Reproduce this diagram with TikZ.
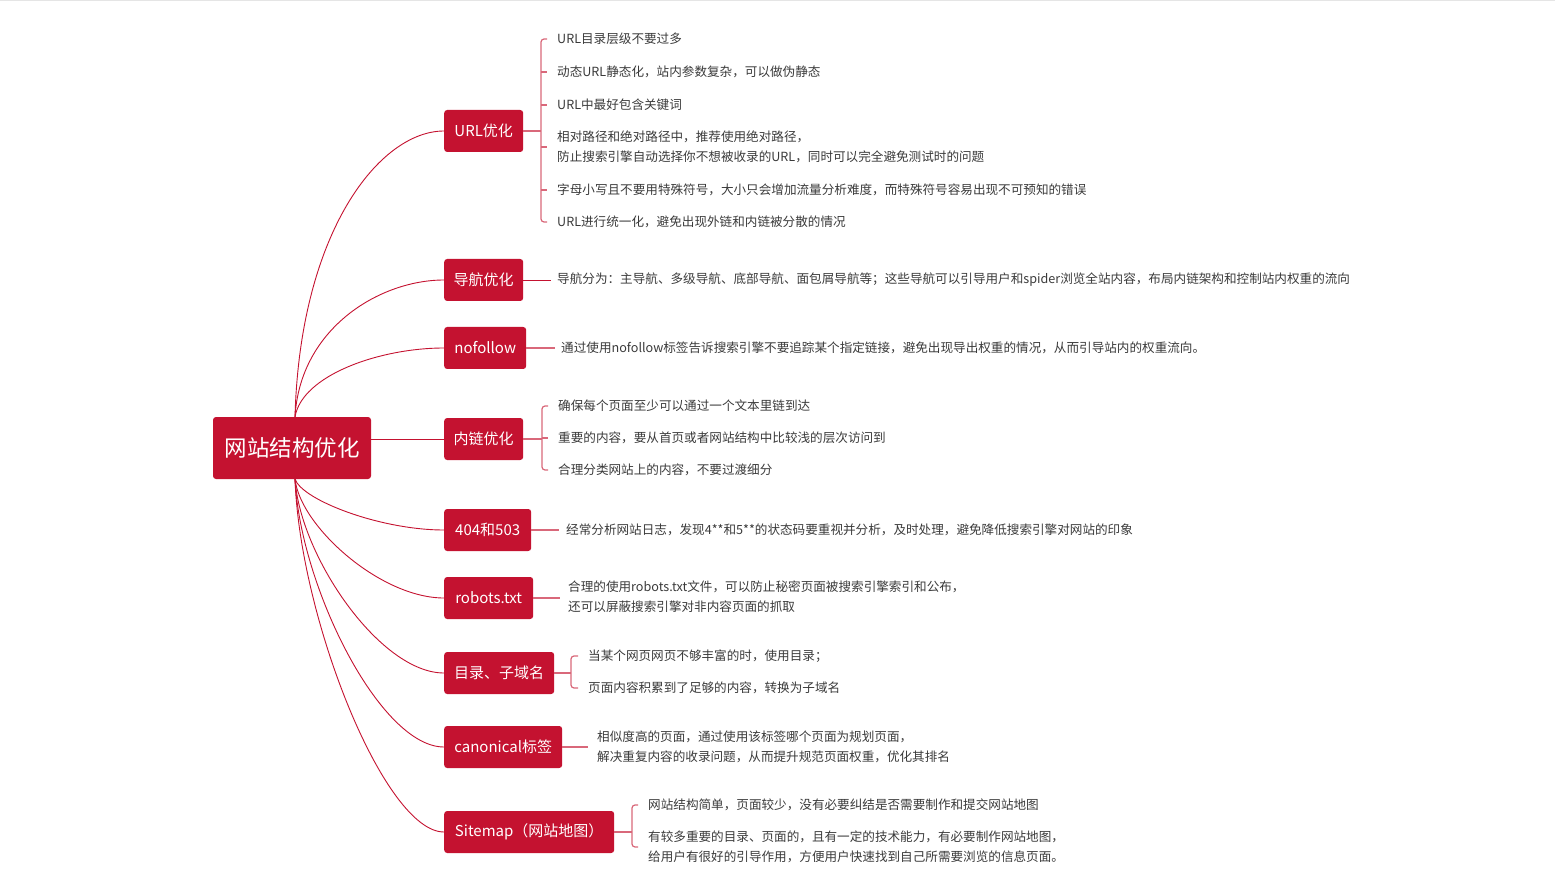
\documentclass[tikz,border=0pt]{standalone}
\usepackage{fontspec}
\newfontfamily\cjk{Noto Sans CJK SC}
\usetikzlibrary{calc}
\definecolor{crim}{HTML}{C41230}
\definecolor{pinkline}{HTML}{D9687A}
\definecolor{txt}{HTML}{3A3A3A}
\begin{document}
\begin{tikzpicture}[x=1pt,y=-1pt,
  rootbox/.style={fill=crim,rounded corners=3pt,text=white,font=\cjk\fontsize{22.5}{27}\selectfont,minimum width=158pt,minimum height=62pt,inner sep=0pt},
  branch/.style={fill=crim,rounded corners=3pt,text=white,font=\cjk\fontsize{15}{18}\selectfont,minimum height=42pt,inner xsep=6pt,anchor=west},
  leaf/.style={text=txt,font=\cjk\fontsize{12.6}{20}\selectfont,anchor=west,inner sep=0pt,align=left},
  link/.style={draw=crim,line width=0.9pt},
  brk/.style={draw=pinkline,line width=1.2pt,rounded corners=3pt},
  stem/.style={draw=pinkline,line width=1.2pt}]
\useasboundingbox (0,0) rectangle (1555,882);
\draw[black!10,line width=1pt] (0,1) -- (1555,1);

% root
\node[rootbox] (root) at (292,448) {网站结构优化};

% branches
\node[branch,minimum width=79pt] (url) at (444,131) {URL优化};
\node[branch,minimum width=79pt] (nav) at (444,280) {导航优化};
\node[branch,minimum width=82pt] (nof) at (444,348) {nofollow};
\node[branch,minimum width=79pt] (inl) at (444,439) {内链优化};
\node[branch,minimum width=87pt] (e404) at (444,530) {404和503};
\node[branch,minimum width=89pt] (rob) at (444,598) {robots.txt};
\node[branch,minimum width=110pt] (dir) at (444,673) {目录、子域名};
\node[branch,minimum width=118pt] (can) at (444,747) {canonical标签};
\node[branch,minimum width=170pt] (smap) at (444,832) {Sitemap（网站地图）};

% root connectors
\coordinate (rt) at (295,417);
\coordinate (rb) at (295,479);
\draw[link] (rt) .. controls (300,231) and (380,131) .. (url.west);
\draw[link] (rt) .. controls (300,328) and (380,280) .. (nav.west);
\draw[link] (rt) .. controls (302,375) and (380,348) .. (nof.west);
\draw[link] (root.east |- inl.west) -- (inl.west);
\draw[link] (rb) .. controls (302,500) and (380,530) .. (e404.west);
\draw[link] (rb) .. controls (300,526) and (380,598) .. (rob.west);
\draw[link] (rb) .. controls (300,556) and (380,673) .. (dir.west);
\draw[link] (rb) .. controls (300,586) and (380,747) .. (can.west);
\draw[link] (rb) .. controls (300,620) and (385,832) .. (smap.west);

% URL leaves
\node[leaf] (u1) at (557,39) {URL目录层级不要过多};
\node[leaf] (u2) at (557,72) {动态URL静态化，站内参数复杂，可以做伪静态};
\node[leaf] (u3) at (557,105) {URL中最好包含关键词};
\node[leaf] (u4) at (557,147) {相对路径和绝对路径中，推荐使用绝对路径，\\防止搜索引擎自动选择你不想被收录的URL，同时可以完全避免测试时的问题};
\node[leaf] (u5) at (557,190) {字母小写且不要用特殊符号，大小只会增加流量分析难度，而特殊符号容易出现不可预知的错误};
\node[leaf] (u6) at (557,222) {URL进行统一化，避免出现外链和内链被分散的情况};
\coordinate (ub) at (541,131);
\draw[stem] (url.east) -- (ub);
\draw[brk] ($(u1.west)+(-10,0)$) -- (u1.west -| ub) -- (u6.west -| ub) -- ($(u6.west)+(-10,0)$);
\foreach \n in {u2,u3,u4,u5} \draw[stem] (\n.west -| ub) -- ($(\n.west)+(-10,0)$);

% nav
\node[leaf] (n1) at (557,280) {导航分为：主导航、多级导航、底部导航、面包屑导航等；这些导航可以引导用户和spider浏览全站内容，布局内链架构和控制站内权重的流向};
\draw[link] (nav.east) -- ($(n1.west)+(-6,0)$);

% nofollow
\node[leaf] (f1) at (561,348) {通过使用nofollow标签告诉搜索引擎不要追踪某个指定链接，避免出现导出权重的情况，从而引导站内的权重流向。};
\draw[stem] (nof.east) -- ($(f1.west)+(-6,0)$);

% internal links
\node[leaf] (i1) at (558,406) {确保每个页面至少可以通过一个文本里链到达};
\node[leaf] (i2) at (558,438) {重要的内容，要从首页或者网站结构中比较浅的层次访问到};
\node[leaf] (i3) at (558,470) {合理分类网站上的内容，不要过渡细分};
\coordinate (ib) at (542,439);
\draw[stem] (inl.east) -- (ib);
\draw[brk] ($(i1.west)+(-10,0)$) -- (i1.west -| ib) -- (i3.west -| ib) -- ($(i3.west)+(-10,0)$);
\draw[stem] (i2.west -| ib) -- ($(i2.west)+(-10,0)$);

% 404
\node[leaf] (e1) at (566,530) {经常分析网站日志，发现4**和5**的状态码要重视并分析，及时处理，避免降低搜索引擎对网站的印象};
\draw[stem] (e404.east) -- ($(e1.west)+(-7,0)$);

% robots
\node[leaf] (r1) at (568,597) {合理的使用robots.txt文件，可以防止秘密页面被搜索引擎索引和公布，\\还可以屏蔽搜索引擎对非内容页面的抓取};
\draw[stem] (rob.east) -- ($(rob.east)+(27,0)$);

% dir
\node[leaf] (d1) at (588,656) {当某个网页网页不够丰富的时，使用目录；};
\node[leaf] (d2) at (588,688) {页面内容积累到了足够的内容，转换为子域名};
\coordinate (db) at (571,673);
\draw[stem] (dir.east) -- (db);
\draw[brk] ($(d1.west)+(-10,0)$) -- (d1.west -| db) -- (d2.west -| db) -- ($(d2.west)+(-10,0)$);

% canonical
\node[leaf] (c1) at (597,747) {相似度高的页面，通过使用该标签哪个页面为规划页面，\\解决重复内容的收录问题，从而提升规范页面权重，优化其排名};
\draw[stem] (can.east) -- ($(can.east)+(26,0)$);

% sitemap
\node[leaf] (s1) at (648,805) {网站结构简单，页面较少，没有必要纠结是否需要制作和提交网站地图};
\node[leaf] (s2) at (648,847) {有较多重要的目录、页面的，且有一定的技术能力，有必要制作网站地图，\\给用户有很好的引导作用，方便用户快速找到自己所需要浏览的信息页面。};
\coordinate (sb) at (632,832);
\draw[stem] (smap.east) -- (sb);
\draw[brk] ($(s1.west)+(-10,0)$) -- (s1.west -| sb) -- (s2.west -| sb) -- ($(s2.west)+(-10,0)$);
\end{tikzpicture}
\end{document}
